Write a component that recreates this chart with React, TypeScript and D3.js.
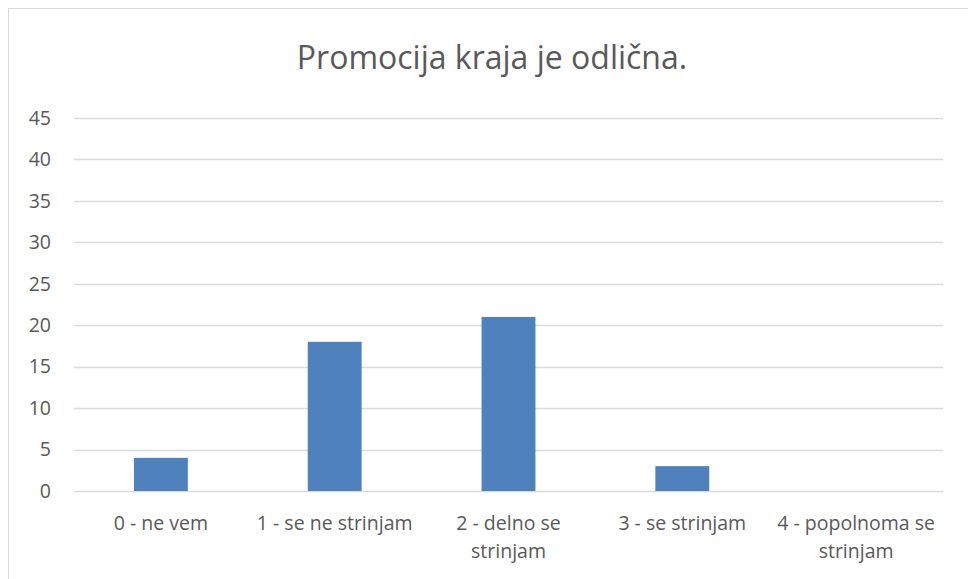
import React, { useEffect, useRef } from "react";
import * as d3 from "d3";

const categories = [
	"0 - ne vem",
	"1 - se ne strinjam",
	"2 - delno se strinjam",
	"3 - se strinjam",
	"4 - popolnoma se strinjam",
];
const values = [4, 18, 21, 3, 0];
const yTicks = [0, 5, 10, 15, 20, 25, 30, 35, 40, 45];
const title = "Promocija kraja je odlična.";

const W = 968;
const H = 579;
const FONT = "'Open Sans', 'DejaVu Sans', sans-serif";
const TEXT = "#595959";
const LABEL_SIZE = 19.5;

// split a label into lines no wider than maxW
function wrap(label: string, maxW: number, measure: (s: string) => number) {
	const words = label.split(" ");
	const lines: string[] = [];
	let cur = "";
	for (const w of words) {
		const test = cur ? cur + " " + w : w;
		if (cur && measure(test) > maxW) {
			lines.push(cur);
			cur = w;
		} else cur = test;
	}
	if (cur) lines.push(cur);
	return lines;
}

const App: React.FC = () => {
	const ref = useRef<SVGSVGElement | null>(null);

	useEffect(() => {
		if (!ref.current) return;
		const svg = d3.select(ref.current);
		svg.selectAll("*").remove();

		const left = 74, right = 943, top = 118, bottom = 491;

		const x = d3
			.scaleBand<string>()
			.domain(categories)
			.range([left, right])
			.paddingInner(0.69)
			.paddingOuter(0.345);
		const y = d3.scaleLinear().domain([0, 45]).range([bottom, top]);

		svg.append("rect")
			.attr("x", 8.5).attr("y", 8.5)
			.attr("width", W).attr("height", H)
			.attr("fill", "#fff")
			.attr("stroke", "#d9d9d9");

		svg.append("text")
			.attr("x", 492)
			.attr("y", 69)
			.attr("text-anchor", "middle")
			.attr("font-family", FONT)
			.attr("font-size", 32)
			.attr("fill", TEXT)
			.text(title);

		const grid = svg.append("g");
		grid.selectAll("line")
			.data(yTicks)
			.enter()
			.append("line")
			.attr("x1", left).attr("x2", right)
			.attr("y1", (d) => Math.round(y(d)) + 0.5)
			.attr("y2", (d) => Math.round(y(d)) + 0.5)
			.attr("stroke", "#d9d9d9")
			.attr("stroke-width", 1.3);

		svg.append("g")
			.selectAll("text")
			.data(yTicks)
			.enter()
			.append("text")
			.attr("x", 51)
			.attr("y", (d) => y(d))
			.attr("dy", "0.35em")
			.attr("text-anchor", "end")
			.attr("font-family", FONT)
			.attr("font-size", LABEL_SIZE)
			.attr("fill", TEXT)
			.text((d) => d);

		svg.append("g")
			.selectAll("rect")
			.data(values)
			.enter()
			.append("rect")
			.attr("x", (_, i) => x(categories[i])!)
			.attr("width", x.bandwidth())
			.attr("y", (d) => y(d))
			.attr("height", (d) => bottom - y(d))
			.attr("fill", "#4f81bd");

		const labels = svg.append("g");
		const probe = labels.append("text").attr("font-family", FONT).attr("font-size", LABEL_SIZE);
		const measure = (s: string) => {
			probe.text(s);
			return (probe.node() as SVGTextElement).getComputedTextLength();
		};
		const step = x.step();
		categories.forEach((c) => {
			const cx = x(c)! + x.bandwidth() / 2;
			const lines = wrap(c, step - 2, measure);
			const t = labels.append("text")
				.attr("text-anchor", "middle")
				.attr("font-family", FONT)
				.attr("font-size", LABEL_SIZE)
				.attr("fill", TEXT);
			lines.forEach((l, i) => {
				t.append("tspan").attr("x", cx).attr("y", 530 + i * 28).text(l);
			});
		});
		probe.remove();
	}, []);

	return (
		<svg
			ref={ref}
			width={W}
			height={H}
			style={{ position: "absolute", left: 0, top: 0, background: "#fff" }}
		/>
	);
};

export default App;
